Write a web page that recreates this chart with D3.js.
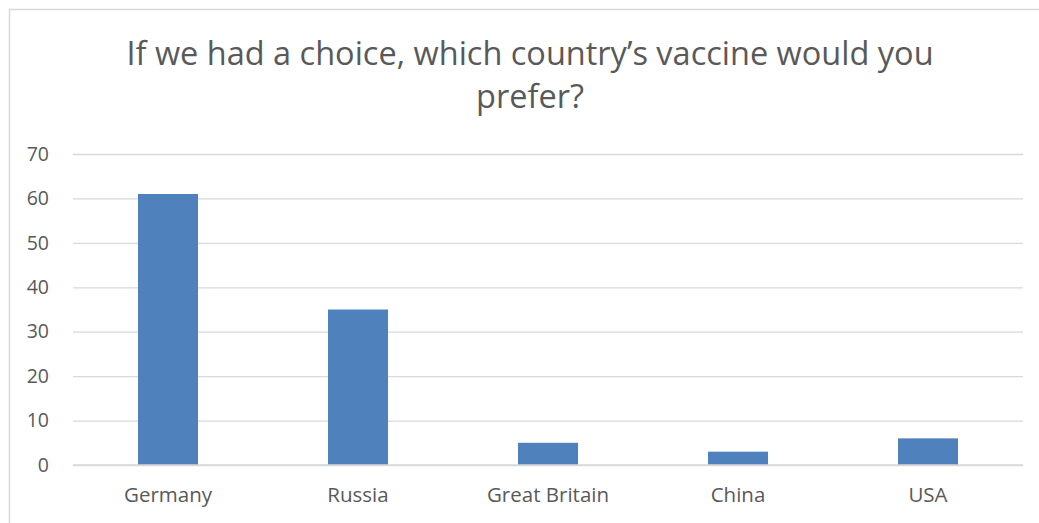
<!DOCTYPE html>
<html>
<head>
<meta charset="utf-8">
<script src="https://cdn.jsdelivr.net/npm/d3@7"></script>
<style>
  html, body { margin: 0; padding: 0; background: #fff; }
  svg { display: block; }
  text { font-family: "Open Sans", "Liberation Sans", sans-serif; fill: #595959; }
</style>
</head>
<body>
<svg id="chart" width="1039" height="523"></svg>
<script>
// Survey answers: preferred vaccine by country of origin
const categories = ["Germany", "Russia", "Great Britain", "China", "USA"];
const values = [61, 35, 5, 3, 6];
const yTicks = [0, 10, 20, 30, 40, 50, 60, 70];
const titleLines = ["If we had a choice, which country\u2019s vaccine would you", "prefer?"];

const W = 1039, H = 523;
const plot = { left: 73, right: 1023, top: 154, bottom: 465 };
const FONT = '"Open Sans", "Liberation Sans", sans-serif';

const svg = d3.select("#chart");

// chart-area frame (top and left edges visible)
svg.append("rect")
  .attr("x", 9.5).attr("y", 9.5)
  .attr("width", W + 10).attr("height", H + 10)
  .attr("fill", "none").attr("stroke", "#d9d9d9").attr("stroke-width", 1.5);

const x = d3.scaleBand().domain(categories).range([plot.left, plot.right]).paddingInner(0.684).paddingOuter(0.342);
const y = d3.scaleLinear().domain([0, 70]).range([plot.bottom, plot.top]);

// horizontal gridlines + value labels
const yAxis = d3.axisLeft(y).tickValues(yTicks).tickSize(-(plot.right - plot.left)).tickPadding(24).tickFormat(d3.format("d"));
const gy = svg.append("g").attr("transform", `translate(${plot.left},0)`).call(yAxis);
gy.select(".domain").remove();
gy.selectAll(".tick line").attr("stroke", "#d9d9d9").attr("stroke-width", 1.3);
gy.selectAll(".tick text").attr("font-size", 19.5).attr("fill", "#595959").attr("font-family", FONT);

// bars
svg.append("g").selectAll("rect").data(values).join("rect")
  .attr("x", (d, i) => x(categories[i]))
  .attr("y", d => y(d))
  .attr("width", x.bandwidth())
  .attr("height", d => y(0) - y(d))
  .attr("fill", "#4f81bd");

// category axis
const xAxis = d3.axisBottom(x).tickSize(0).tickPadding(22);
const gx = svg.append("g").attr("transform", `translate(0,${plot.bottom})`).call(xAxis);
gx.select(".domain").remove();
gx.selectAll(".tick text").attr("font-size", 20.5).attr("fill", "#595959").attr("font-family", FONT);

// zero baseline drawn over bar bottoms
svg.append("line")
  .attr("x1", plot.left).attr("x2", plot.right)
  .attr("y1", y(0)).attr("y2", y(0))
  .attr("stroke", "#d9d9d9").attr("stroke-width", 1.3);

// title
svg.append("g").selectAll("text").data(titleLines).join("text")
  .attr("x", 530)
  .attr("y", (d, i) => 65 + i * 43)
  .attr("text-anchor", "middle")
  .attr("font-size", 32.5)
  .text(d => d);
</script>
</body>
</html>
